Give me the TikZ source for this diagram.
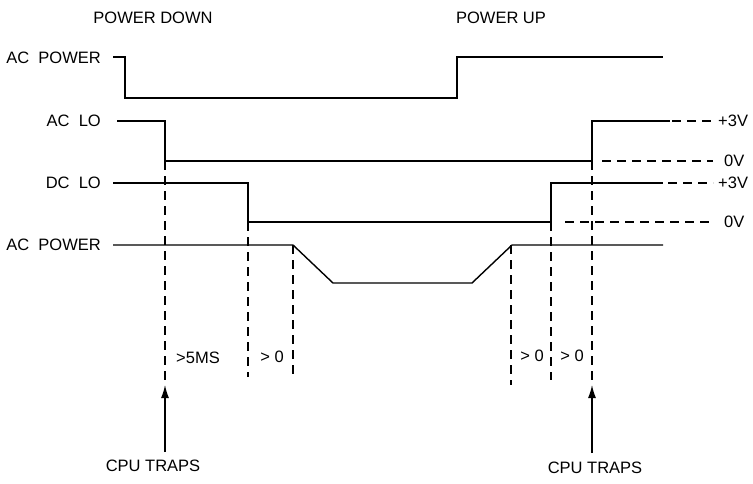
\documentclass[tikz,border=0pt]{standalone}
\usepackage{fontspec}
\setmainfont{Liberation Sans}
\usetikzlibrary{arrows.meta}
\tikzset{
  sig/.style={line width=1.4pt, line join=miter},
  dsh/.style={line width=1.3pt, dash pattern=on 9pt off 6pt},
  lbl/.style={font=\fontsize{16.5}{19}\selectfont, inner sep=0pt},
  trap/.style={line width=1.4pt, -{Latex[length=13pt,width=8pt]}}
}
\begin{document}
\begin{tikzpicture}[x=1pt,y=-1pt]
\useasboundingbox (0,0) rectangle (753,483);
% titles
\node[lbl] (pd) at (153,18) {POWER\ DOWN};
\node[lbl] (pu) at (501,18) {POWER\ UP};
% row labels
\node[lbl,anchor=east] (l1) at (101,58) {AC\ \ POWER};
\node[lbl,anchor=east] (l2) at (101,121) {AC\ \ LO};
\node[lbl,anchor=east] (l3) at (101,183) {DC\ \ LO};
\node[lbl,anchor=east] (l4) at (101,245) {AC\ \ POWER};
% AC POWER
\draw[sig] (113,57) -- (125,57) -- (125,98) -- (457,98) -- (457,57) -- (663,57);
% AC LO
\draw[sig] (117,121) -- (165,121) -- (165,161) -- (592,161) -- (592,121) -- (670,121);
\draw[dsh] (672,121) -- (713,121);
\node[lbl,anchor=west] (v1) at (718,121) {+3V};
\draw[dsh] (602,161) -- (713,161);
\node[lbl,anchor=west] (v2) at (724,161) {0V};
% DC LO
\draw[sig] (113,183) -- (248,183) -- (248,222) -- (551,222) -- (551,183) -- (663,183);
\draw[dsh] (668,183) -- (713,183);
\node[lbl,anchor=west] (v3) at (718,183) {+3V};
\draw[dsh] (565,222) -- (713,222);
\node[lbl,anchor=west] (v4) at (724,222) {0V};
% AC POWER (bottom)
\draw[sig] (113,245) -- (293,245) -- (333,283) -- (472,283) -- (512,245) -- (663,245);
% dashed verticals
\draw[dsh] (165,161) -- (165,386);
\draw[dsh] (248,222) -- (248,377);
\draw[dsh] (293,245) -- (293,377);
\draw[dsh] (511,245) -- (511,385);
\draw[dsh] (551,222) -- (551,380);
\draw[dsh] (592,161) -- (592,386);
% interval labels
\node[lbl] (t1) at (198,358) {>5MS};
\node[lbl] (t2) at (272,357) {> 0};
\node[lbl] (t3) at (532,356) {> 0};
\node[lbl] (t4) at (572,356) {> 0};
% CPU traps
\node[lbl] (c1) at (153,466) {CPU\ TRAPS};
\node[lbl] (c2) at (595,468) {CPU\ TRAPS};
\coordinate (a1) at (165,452);
\coordinate (a2) at (592,453);
\draw[trap] (a1) -- (165,385);
\draw[trap] (a2) -- (592,385);
\end{tikzpicture}
\end{document}
